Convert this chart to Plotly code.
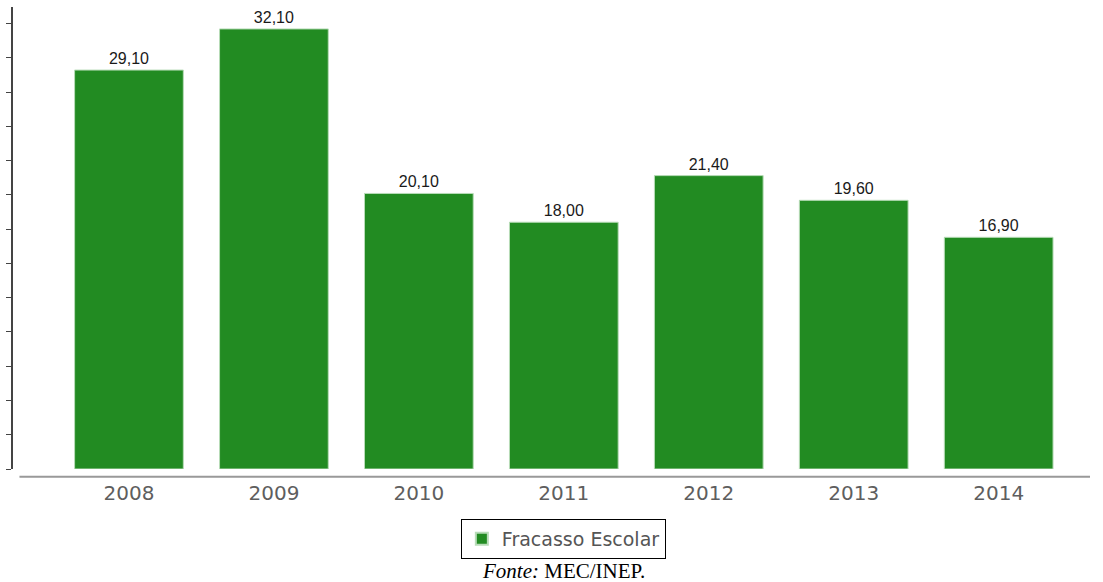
import plotly.graph_objects as go

years = ["2008", "2009", "2010", "2011", "2012", "2013", "2014"]
values = [29.10, 32.10, 20.10, 18.00, 21.40, 19.60, 16.90]
series_name = "Fracasso Escolar"

fig = go.Figure()
fig.add_trace(go.Bar(
    x=years, y=values, name=series_name,
    marker=dict(color="#228B22", line=dict(color="#b8dcb8", width=1)),
    texttemplate="%{y:.2f}", textposition="outside",
    textfont=dict(family="Liberation Sans", size=16, color="#1a1a1a"),
    cliponaxis=False, showlegend=True,
))

fig.update_layout(
    width=1103, height=582,
    margin=dict(l=13, r=13, t=7, b=113, autoexpand=False),
    paper_bgcolor="white", plot_bgcolor="white",
    separators=",.",
    bargap=0.25,
    xaxis=dict(
        type="category", range=[-0.8, 6.63],
        showline=False, showgrid=False, zeroline=False,
        ticks="", ticklabelstandoff=10,
        tickfont=dict(family="DejaVu Sans", size=20, color="#5e5e5e"),
    ),
    yaxis=dict(
        range=[0, 33.7], dtick=2.5, tick0=0,
        showline=True, linecolor="#444444", linewidth=2,
        ticks="outside", ticklen=5, tickcolor="#444444", tickwidth=1,
        showticklabels=False, showgrid=False, zeroline=False,
    ),
    legend=dict(
        orientation="h", x=0.511, xanchor="center", y=-0.1515, yanchor="middle",
        bordercolor="#000000", borderwidth=1,
        font=dict(family="DejaVu Sans", size=19, color="#555555"),
        itemwidth=30, itemsizing="constant",
    ),
    shapes=[dict(type="line", xref="paper", yref="paper",
                 x0=0.006, x1=1.0, y0=-0.017, y1=-0.017,
                 line=dict(color="#999999", width=2))],
    annotations=[dict(
        text="<i>Fonte:</i> MEC/INEP.", xref="paper", yref="paper",
        x=0.511, y=-0.2208, xanchor="center", yanchor="middle", showarrow=False,
        font=dict(family="Liberation Serif", size=21, color="#000000"),
    )],
)

fig.write_html(
    "out.html",
    config={"displayModeBar": False},
    post_script="document.body.style.margin='0';document.body.style.overflow='hidden';",
)
